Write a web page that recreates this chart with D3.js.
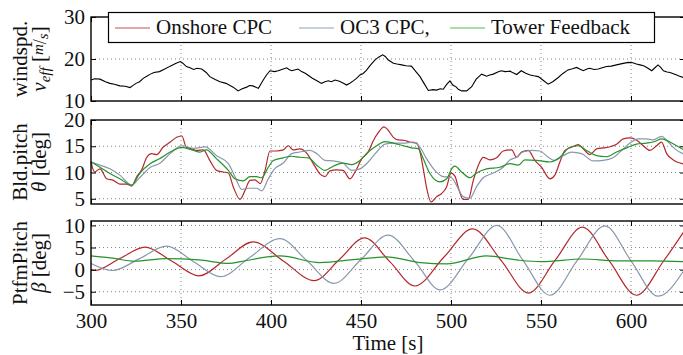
<!DOCTYPE html>
<html>
<head>
<meta charset="utf-8">
<script src="https://cdn.jsdelivr.net/npm/d3@7"></script>
<style>
  body { margin: 0; background: #fff; }
  svg { display: block; font-family: "Liberation Serif", "Times New Roman", serif; }
</style>
</head>
<body>
<div id="chart"></div>
<script>
// time axis ticks
const timeTicks = [300, 350, 400, 450, 500, 550, 600];

// effective wind speed [m/s]
const windSpeed = [
  [300, 15.0], [302, 15.3], [305, 15.2], [308, 14.6], [310.5, 14.2], [313, 14.0], [316, 13.6], [319, 13.5],
  [321.7, 13.2], [323, 13.6], [325, 14.2], [327, 14.6], [329, 15.4], [331, 15.9], [333, 16.4], [335, 16.8],
  [338, 17.0], [341, 17.6], [344, 18.3], [347, 18.9], [349.5, 19.4], [351, 19.0], [353, 18.2], [355, 17.9],
  [357, 17.5], [359, 17.8], [361.5, 17.6], [364, 16.8], [366, 15.8], [369, 15.1], [371.7, 14.6], [375, 14.2],
  [379, 13.3], [381.7, 12.4], [384, 12.9], [386.5, 13.3], [388, 13.7], [390, 13.6], [393, 13.0], [395.7, 15.0],
  [397.5, 16.2], [399.4, 17.2], [402, 17.0], [404, 17.2], [406, 17.5], [408.7, 17.9], [410, 17.5], [411.5, 17.2],
  [413, 17.4], [415, 17.6], [417, 17.0], [419, 16.6], [421, 16.0], [423, 15.4], [426, 14.7], [428, 14.2],
  [430, 14.6], [431.8, 14.8], [433.5, 14.6], [435.6, 15.0], [438, 14.7], [440, 14.3], [442, 13.8], [444, 14.3],
  [445.7, 14.8], [447.5, 15.4], [449.4, 16.2], [451, 16.5], [453, 17.3], [455, 18.4], [457.8, 19.8], [460, 20.5],
  [462, 21.0], [463.5, 20.6], [465, 19.8], [468, 19.0], [470, 18.8], [472.6, 18.6], [475, 18.4], [478, 18.3],
  [480.5, 17.0], [482.8, 15.8], [485, 14.2], [487.4, 12.5], [490, 12.7], [492, 12.6], [494, 12.9], [495.7, 12.8],
  [497.5, 13.9], [499.4, 14.8], [501, 13.8], [503, 13.3], [504, 12.8], [506, 12.4], [508.7, 12.4], [511.5, 13.4],
  [514, 15.2], [517, 16.4], [519.8, 15.9], [521.5, 16.2], [523.5, 16.4], [526, 16.9], [528, 17.2], [530, 17.0],
  [532.8, 17.1], [534.5, 16.7], [536.5, 16.3], [539, 17.2], [541.5, 16.6], [544, 16.2], [546, 16.0], [548.5, 15.8],
  [551, 15.0], [554, 14.0], [556.5, 14.6], [559.6, 15.6], [562, 16.5], [565, 17.4], [567.5, 17.7], [569.8, 18.0],
  [571.5, 17.6], [573.5, 17.2], [575.5, 17.6], [577, 17.8], [579.5, 17.5], [581.8, 17.6], [584, 17.9], [586.5, 18.2],
  [589, 18.3], [592, 18.6], [595, 18.9], [598.5, 19.2], [601, 19.1], [603, 18.8], [605, 18.6], [607, 18.4],
  [609, 17.9], [611.5, 17.2], [613, 17.8], [615, 18.6], [616.5, 18.0], [618, 17.2], [620, 16.9], [621.7, 16.8],
  [623.5, 16.5], [625.4, 16.2], [627, 15.9], [629, 15.6], [630, 15.8]
];

// blade pitch [deg]
const pitchOnshore = [
  [300, 12.0], [302, 10.1], [305, 10.7], [308.7, 8.8], [312.4, 8.5], [316, 7.8], [319.8, 7.8], [322.6, 7.4],
  [325.4, 9.2], [328, 10.4], [331, 12.9], [333.7, 13.6], [336.5, 13.4], [340, 14.8], [344, 15.8], [347.6, 16.7],
  [350.4, 17.0], [353, 14.8], [356, 14.5], [358.7, 14.2], [362.4, 14.3], [366, 12.3], [369.8, 10.4], [373.5, 10.1],
  [376.3, 9.9], [379, 7.3], [382.8, 4.9], [385.6, 6.6], [388.3, 8.5], [391, 8.6], [394, 7.9], [396.7, 10.4],
  [399.4, 14.1], [403, 14.1], [406.8, 14.3], [409.6, 15.1], [412.4, 14.3], [416, 14.5], [419.8, 13.7], [423.5, 11.7],
  [427, 9.8], [430, 9.2], [432.8, 10.3], [436.5, 10.5], [440, 10.4], [443.9, 8.8], [446.7, 10.1], [450.4, 12.6],
  [454, 13.9], [456.9, 16.1], [459.6, 17.6], [462.8, 18.7], [465, 18.1], [468, 16.7], [470.7, 16.2], [474.4, 16.1],
  [477, 15.8], [481, 15.6], [482.8, 13.9], [484.6, 10.7], [486.5, 7.0], [488.9, 4.4], [492, 5.4], [494.8, 6.0],
  [497.6, 7.3], [500, 9.9], [502.2, 9.3], [504, 7.2], [506.8, 4.9], [509.6, 4.9], [512.4, 8.5], [516, 12.0],
  [517.9, 12.9], [521.6, 12.4], [525.3, 12.8], [529, 14.1], [533.7, 14.3], [536.4, 12.9], [539.2, 13.9], [542.9, 14.2],
  [546.6, 12.3], [550.3, 11.0], [555, 8.8], [557.7, 9.5], [560.5, 12.0], [563.3, 14.2], [567, 14.8], [570.7, 15.3],
  [573.5, 14.5], [577.2, 13.4], [580.9, 14.5], [584.6, 14.7], [588.3, 14.9], [592, 15.4], [595.7, 16.4], [599.4, 16.6],
  [603, 16.2], [606.8, 15.1], [610.5, 14.2], [614.2, 15.1], [617, 15.8], [619.8, 13.6], [623.5, 12.4], [627.2, 11.8],
  [630, 11.6]
];
const pitchOC3 = [
  [300, 12.0], [305, 11.4], [310.5, 10.7], [316, 9.5], [322.6, 7.6], [327, 9.0], [333, 11.0], [338, 11.7],
  [344, 13.6], [350.4, 15.1], [357, 14.6], [363.4, 14.9], [369.8, 13.2], [376.3, 11.7], [380, 9.2], [383.7, 6.8],
  [387.4, 7.0], [392, 7.0], [394.8, 6.5], [398.5, 8.8], [402, 10.7], [406.8, 11.8], [411.5, 13.6], [416, 13.9],
  [421.7, 14.2], [425.4, 13.6], [430, 12.3], [434.6, 12.2], [440, 11.8], [444.8, 10.4], [449.4, 10.7], [454, 12.0],
  [458.7, 13.9], [463.3, 15.4], [468, 15.6], [473.5, 15.6], [479, 15.8], [482.8, 14.8], [486.5, 12.6], [491, 10.4],
  [495.7, 9.2], [499.4, 9.1], [501, 8.8], [503, 7.6], [506.8, 5.4], [510.5, 5.1], [514.2, 7.3], [517.9, 9.0],
  [523.5, 9.9], [529, 11.0], [532.7, 12.4], [536.4, 12.9], [540, 13.9], [544.8, 14.2], [549.4, 14.1], [554, 12.9],
  [557.7, 12.3], [562.4, 13.2], [567, 13.9], [572.5, 13.6], [579, 12.2], [584.6, 12.3], [590, 12.8], [595.7, 14.5],
  [599.4, 15.6], [604, 16.4], [608.6, 16.4], [612.4, 16.2], [617, 16.9], [620.7, 15.8], [624.4, 14.5], [630, 13.4]
];
const pitchTower = [
  [300, 12.0], [305, 11.0], [310.5, 9.8], [316, 8.8], [322.6, 7.6], [327, 9.8], [333, 11.7], [338, 12.6],
  [344, 13.9], [350.4, 14.8], [357, 14.2], [360.5, 13.9], [364, 14.3], [369.8, 12.6], [376.3, 10.4], [380, 8.8],
  [384.6, 8.4], [388.3, 9.2], [392, 9.2], [394.8, 9.0], [398.5, 11.0], [401.3, 12.3], [406.8, 12.8], [411.5, 13.1],
  [416, 12.9], [420.7, 12.8], [425.4, 11.4], [430, 10.4], [434.6, 11.2], [440, 11.8], [444.8, 11.5], [449.4, 12.3],
  [454, 13.9], [458.7, 15.1], [463.3, 15.9], [468, 15.6], [473.5, 15.1], [478, 14.7], [481.9, 14.5], [484.6, 12.6],
  [488.3, 9.8], [493.9, 8.2], [497.6, 8.8], [501, 11.0], [502.2, 11.2], [505.9, 10.1], [510.5, 9.0], [514.2, 9.9],
  [519.8, 10.7], [527.2, 11.0], [532.7, 11.7], [537.4, 11.4], [541, 12.4], [547.6, 12.3], [555, 12.0], [560.5, 12.9],
  [566, 14.8], [570.7, 15.1], [575.3, 14.2], [580.9, 13.2], [586.4, 13.0], [592, 13.9], [597.5, 14.7], [603, 15.4],
  [608.6, 15.6], [613.3, 15.9], [617, 16.4], [621.6, 15.8], [625.3, 15.1], [630, 14.2]
];

// platform pitch [deg]
const ptfmOnshore = [
  [300, 0.0], [302, -0.2], [316, 2.5], [330, 5.1], [345, 1.9], [360, -1.4], [375, 2.4], [390, 6.3],
  [407, 1.9], [424, -2.5], [438, 2.3], [452, 7.2], [466, 1.8], [480, -3.7], [496, 2.8], [512, 9.2],
  [528, 2.0], [543, -5.3], [558, 2.2], [573, 9.6], [588, 1.9], [603, -5.8], [618, 1.9], [630, 9.0]
];
const ptfmOC3 = [
  [300, 1.4], [312, -0.2], [327, 2.5], [342, 5.3], [357, 1.8], [372, -1.6], [388, 2.7], [405, 7.0],
  [420, 2.0], [435, -3.1], [450, 2.3], [465, 7.8], [480, 1.8], [494, -4.6], [510, 2.7], [525.5, 10.0],
  [540, 2.1], [555, -5.8], [570, 2.0], [585.5, 9.9], [600, 2.0], [615, -6.0], [630, 0.2]
];
const ptfmTower = [
  [300, 3.1], [312, 2.6], [324, 1.9], [342, 2.5], [360, 2.2], [377, 1.4], [383, 1.8], [405, 3.1],
  [427, 1.6], [447, 2.3], [464, 2.9], [483, 1.6], [497.6, 1.3], [519.8, 3.1], [536.4, 2.2], [550, 1.8],
  [573.5, 2.4], [592, 2.0], [610.5, 2.0], [630, 1.8]
];

const legendNames = ["Onshore CPC", "OC3 CPC,", "Tower Feedback"];
const colors = ["#b5272c", "#8898ac", "#25922a"];
const legendColors = ["#d98a8c", "#b4bfcc", "#8fcf8f"];

const width = 683, height = 355;
const left = 91, right = 685;
const font = "Liberation Serif, Times New Roman, serif";

const svg = d3.select("#chart").append("svg")
  .attr("width", width)
  .attr("height", height)
  .attr("font-family", font);

const x = d3.scaleLinear().domain([300, 630]).range([left, right]);

const panels = [
  { top: 17, bottom: 101, domain: [10, 30], ticks: [10, 20, 30], series: [windSpeed], lineColors: ["#000"],
    curve: d3.curveLinear, width: 1.1, label: ["windspd.", "veff"] },
  { top: 120, bottom: 204, domain: [4, 20], ticks: [5, 10, 15, 20], series: [pitchOnshore, pitchOC3, pitchTower],
    lineColors: colors, curve: d3.curveMonotoneX, width: 1.2, label: ["Bld.pitch", "theta"] },
  { top: 221, bottom: 305, domain: [-8, 11], ticks: [-5, 0, 5, 10], series: [ptfmOnshore, ptfmOC3, ptfmTower],
    lineColors: colors, curve: d3.curveMonotoneX, width: 1.2, label: ["PtfmPitch", "beta"] }
];

panels.forEach((p, i) => {
  const y = d3.scaleLinear().domain(p.domain).range([p.bottom, p.top]);
  const g = svg.append("g");

  // dotted grid
  g.selectAll(".vgrid")
    .data(timeTicks.filter(t => t > 300))
    .enter().append("line")
    .attr("x1", d => x(d)).attr("x2", d => x(d))
    .attr("y1", p.top).attr("y2", p.bottom)
    .attr("stroke", "#666").attr("stroke-width", 0.8)
    .attr("stroke-dasharray", "1,3");
  g.selectAll(".hgrid")
    .data(p.ticks.filter(v => y(v) > p.top + 1 && y(v) < p.bottom - 1))
    .enter().append("line")
    .attr("x1", left).attr("x2", right)
    .attr("y1", d => y(d)).attr("y2", d => y(d))
    .attr("stroke", "#666").attr("stroke-width", 0.8)
    .attr("stroke-dasharray", "1,3");

  // data lines
  const line = d3.line()
    .x(d => x(d[0]))
    .y(d => y(d[1]))
    .curve(p.curve);
  p.series.forEach((s, k) => {
    g.append("path")
      .datum(s)
      .attr("d", line)
      .attr("fill", "none")
      .attr("stroke", p.lineColors[k])
      .attr("stroke-width", p.width);
  });

  // axes with inward ticks
  g.append("g")
    .attr("transform", `translate(${left},0)`)
    .call(d3.axisLeft(y).tickValues(p.ticks).tickSize(-5).tickPadding(6).tickFormat(d => d < 0 ? "\u2212" + Math.abs(d) : d));
  g.append("g")
    .attr("transform", `translate(${right},0)`)
    .call(d3.axisRight(y).tickValues(p.ticks).tickSize(-5).tickFormat(""));
  g.append("g")
    .attr("transform", `translate(0,${p.bottom})`)
    .call(d3.axisBottom(x).tickValues(timeTicks).tickSize(-5).tickPadding(8)
      .tickFormat(i === 2 ? d3.format("d") : ""));
  g.append("g")
    .attr("transform", `translate(0,${p.top})`)
    .call(d3.axisTop(x).tickValues(timeTicks).tickSize(-5).tickFormat(""));

  g.selectAll(".domain").remove();
  g.selectAll("g").attr("font-family", font);
  g.selectAll(".tick line").attr("stroke", "#000").attr("stroke-width", 1);
  g.selectAll(".tick text")
    .attr("font-size", 21)
    .attr("fill", "#111");

  // frame
  g.append("rect")
    .attr("x", left).attr("y", p.top)
    .attr("width", right - left).attr("height", p.bottom - p.top)
    .attr("fill", "none").attr("stroke", "#000").attr("stroke-width", 1.4);

  // y label, two lines
  const cy = (p.top + p.bottom) / 2;
  svg.append("text")
    .attr("transform", `translate(27,${cy}) rotate(-90)`)
    .attr("text-anchor", "middle")
    .attr("font-size", 21)
    .attr("fill", "#111")
    .text(p.label[0]);
  const l2 = svg.append("text")
    .attr("transform", `translate(46,${cy}) rotate(-90)`)
    .attr("text-anchor", "middle")
    .attr("font-size", 21)
    .attr("fill", "#111");
  if (p.label[1] === "veff") {
    l2.append("tspan").attr("font-style", "italic").text("v");
    l2.append("tspan").attr("font-style", "italic").attr("font-size", 15).attr("dy", 4).text("eff");
    l2.append("tspan").attr("dy", -4).text(" [");
    l2.append("tspan").attr("font-style", "italic").attr("font-size", 15).attr("dy", -3).text("m");
    l2.append("tspan").attr("font-size", 18).attr("dy", 3).text("/");
    l2.append("tspan").attr("font-style", "italic").attr("font-size", 15).attr("dy", 2).text("s");
    l2.append("tspan").attr("dy", -2).text("]");
  } else {
    l2.append("tspan").attr("font-style", "italic").text(p.label[1] === "theta" ? "\u03b8" : "\u03b2");
    l2.append("tspan").text(" [deg]");
  }
});

// x axis title
svg.append("text")
  .attr("x", 388).attr("y", 350)
  .attr("text-anchor", "middle")
  .attr("font-size", 21)
  .attr("fill", "#111")
  .text("Time [s]");

// legend
const legend = svg.append("g");
legend.append("rect")
  .attr("x", 108.5).attr("y", 12.5)
  .attr("width", 546).attr("height", 30)
  .attr("fill", "#fff").attr("stroke", "#000").attr("stroke-width", 1.2);
const legendX = [115, 299, 450];
legendNames.forEach((name, k) => {
  legend.append("line")
    .attr("x1", legendX[k]).attr("x2", legendX[k] + 35)
    .attr("y1", 28).attr("y2", 28)
    .attr("stroke", legendColors[k]).attr("stroke-width", 1.3);
  legend.append("text")
    .attr("x", legendX[k] + 41).attr("y", 34)
    .attr("font-size", 21)
    .attr("fill", "#111")
    .text(name);
});
</script>
</body>
</html>
